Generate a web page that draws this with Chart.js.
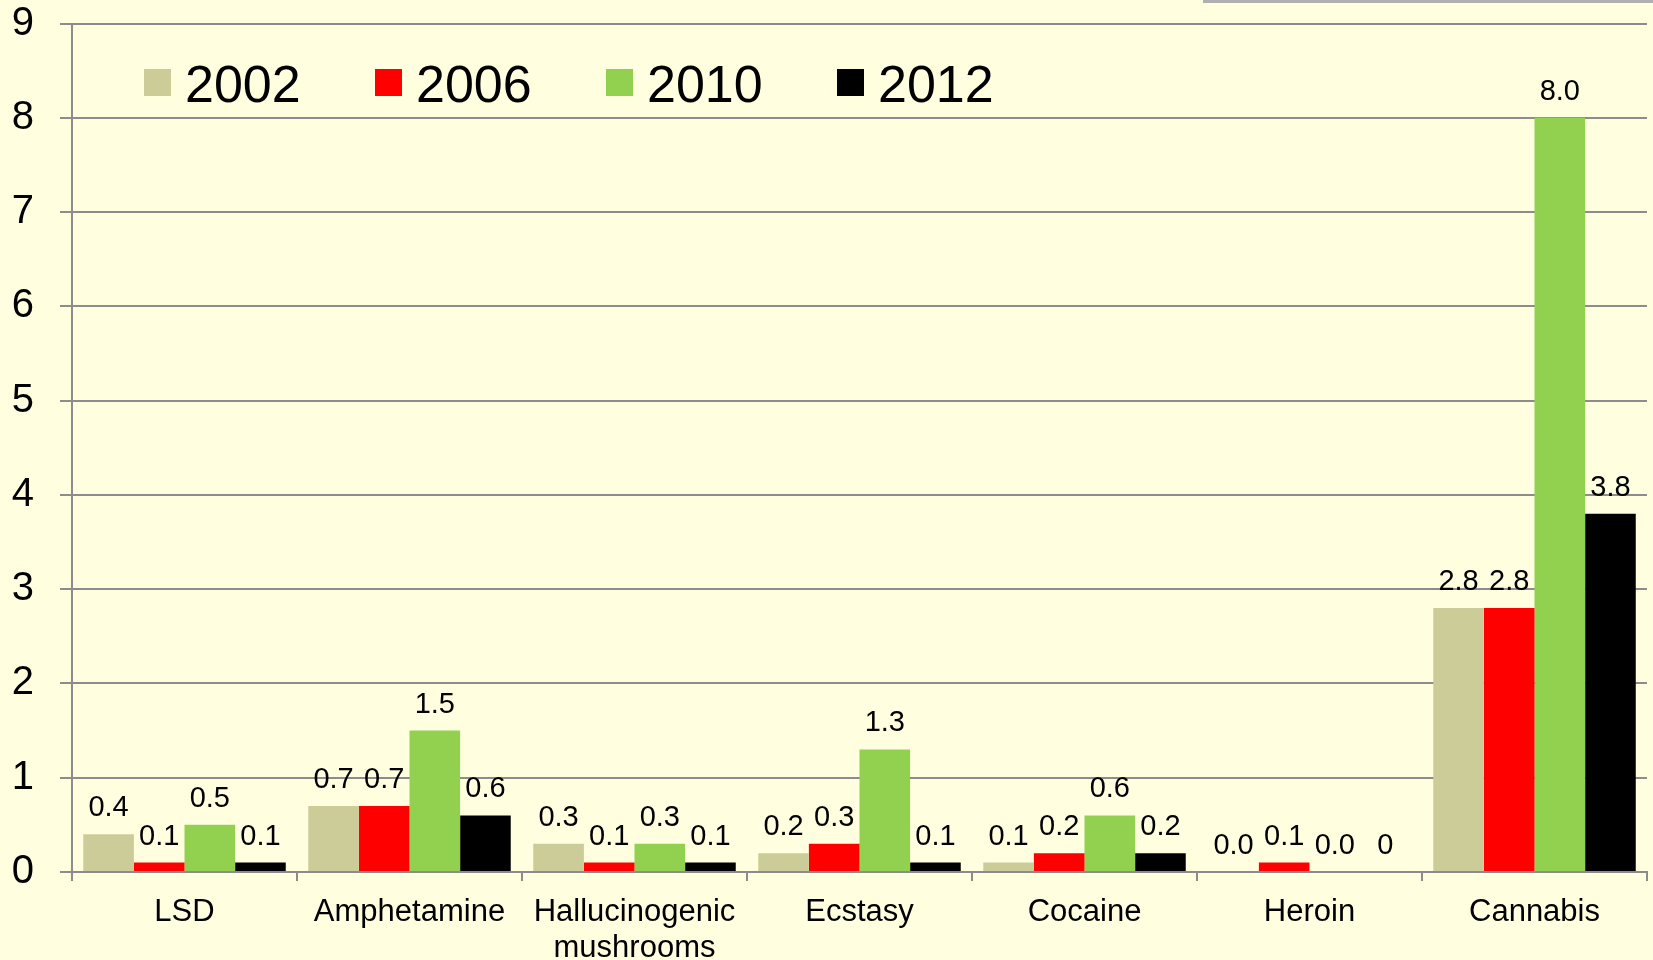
<!DOCTYPE html>
<html>
<head>
<meta charset="utf-8">
<script src="https://cdn.jsdelivr.net/npm/chart.js@4/dist/chart.umd.min.js"></script>
<style>
  html, body { margin: 0; padding: 0; background: #FFFFE0; }
  #wrap { position: relative; width: 1653px; height: 960px; background: #FFFFE0; overflow: hidden; }
  #topline { position: absolute; left: 1203px; top: 0; width: 450px; height: 3px; background: #b0b0b0; }
</style>
</head>
<body>
<div id="wrap">
  <canvas id="c" width="1653" height="960"></canvas>
  <div id="topline"></div>
</div>
<script>
// ---- data ----
const categories = ['LSD', 'Amphetamine', ['Hallucinogenic', 'mushrooms'], 'Ecstasy', 'Cocaine', 'Heroin', 'Cannabis'];
const seriesNames = ['2002', '2006', '2010', '2012'];
const values2002 = [0.4, 0.7, 0.3, 0.2, 0.1, 0.0, 2.8];
const values2006 = [0.1, 0.7, 0.1, 0.3, 0.2, 0.1, 2.8];
const values2010 = [0.5, 1.5, 0.3, 1.3, 0.6, 0.0, 8.0];
const values2012 = [0.1, 0.6, 0.1, 0.1, 0.2, 0, 3.8];
const yTicks = [0, 1, 2, 3, 4, 5, 6, 7, 8, 9];

const colors = ['#CCCC99', '#FF0000', '#92D050', '#000000'];
const labelFixed = [true, true, true, false]; // 2012 labels use general format
const FONT = '"Liberation Sans", Arial, sans-serif';
const GRID = '#8c8c8c';

const dataLabels = {
  id: 'dataLabels',
  afterDatasetsDraw(chart) {
    const ctx = chart.ctx;
    ctx.save();
    ctx.font = '29px ' + FONT;
    ctx.fillStyle = '#000';
    ctx.textAlign = 'center';
    ctx.textBaseline = 'alphabetic';
    chart.data.datasets.forEach((ds, i) => {
      const meta = chart.getDatasetMeta(i);
      meta.data.forEach((el, j) => {
        const v = ds.data[j];
        const txt = labelFixed[i] ? v.toFixed(1) : String(v);
        ctx.fillText(txt, el.x, el.y - 18);
      });
    });
    ctx.restore();
  }
};

const innerLegend = {
  id: 'innerLegend',
  afterDraw(chart) {
    const ctx = chart.ctx;
    const a = chart.chartArea;
    ctx.save();
    ctx.font = '52px ' + FONT;
    ctx.textBaseline = 'alphabetic';
    ctx.textAlign = 'left';
    chart.data.datasets.forEach((ds, i) => {
      const x = a.left + 72 + i * 231;
      const y = a.top + 45.5;
      ctx.fillStyle = ds.backgroundColor;
      ctx.fillRect(x, y, 27, 27);
      ctx.fillStyle = '#000';
      ctx.fillText(ds.label, x + 41, y + 33);
    });
    ctx.restore();
  }
};

const seriesValues = [values2002, values2006, values2010, values2012];

new Chart(document.getElementById('c'), {
  type: 'bar',
  data: {
    labels: categories,
    datasets: seriesNames.map((n, i) => ({
      label: n,
      data: seriesValues[i],
      backgroundColor: colors[i],
      borderWidth: 0,
      categoryPercentage: 0.9,
      barPercentage: 1.0
    }))
  },
  options: {
    responsive: false,
    animation: false,
    layout: { padding: { top: 23.5, right: 6, bottom: 0, left: 0 } },
    plugins: {
      legend: { display: false },
      tooltip: { enabled: false }
    },
    scales: {
      x: {
        grid: {
          display: true,
          offset: true,
          drawOnChartArea: false,
          drawTicks: true,
          tickLength: 9,
          color: GRID,
          lineWidth: 2
        },
        border: { display: true, color: GRID, width: 2 },
        ticks: {
          color: '#000',
          padding: 14,
          maxRotation: 0,
          autoSkip: false,
          font: { family: FONT, size: 31, lineHeight: 1.15 }
        },
        afterFit(scale) { scale.height = 88; scale.paddingLeft = 0; scale.paddingRight = 0; }
      },
      y: {
        min: 0,
        max: 9,
        afterBuildTicks(scale) { scale.ticks = yTicks.map(v => ({ value: v })); },
        grid: {
          color: GRID,
          lineWidth: 2,
          drawTicks: true,
          tickLength: 12
        },
        border: { display: true, color: GRID, width: 2 },
        ticks: {
          color: '#000',
          padding: 26,
          font: { family: FONT, size: 40 }
        },
        afterFit(scale) { scale.width = 72; scale.paddingTop = 0; scale.paddingBottom = 0; }
      }
    }
  },
  plugins: [dataLabels, innerLegend]
});
</script>
</body>
</html>
